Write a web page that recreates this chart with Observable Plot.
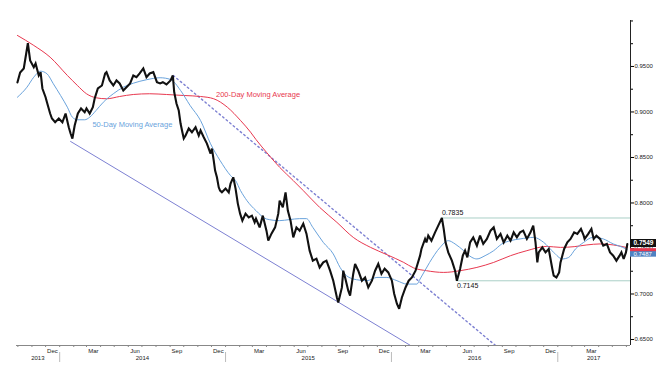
<!DOCTYPE html>
<html><head><meta charset="utf-8">
<script src="https://cdn.jsdelivr.net/npm/d3@7"></script>
<script src="https://cdn.jsdelivr.net/npm/@observablehq/plot@0.6"></script>
<style>body{margin:0;background:#fff}</style>
</head><body><div id="chart"></div>
<script>
const priceDates = ["2013-09-30","2013-10-06","2013-10-14","2013-10-23","2013-10-28","2013-11-05","2013-11-09","2013-11-16","2013-11-20","2013-11-24","2013-12-01","2013-12-04","2013-12-11","2013-12-15","2013-12-22","2013-12-30","2014-01-07","2014-01-14","2014-01-21","2014-01-25","2014-01-29","2014-02-03","2014-02-10","2014-02-17","2014-02-25","2014-03-01","2014-03-08","2014-03-15","2014-03-19","2014-03-26","2014-04-04","2014-04-11","2014-04-14","2014-04-21","2014-04-29","2014-05-06","2014-05-13","2014-05-21","2014-05-28","2014-06-05","2014-06-12","2014-06-19","2014-06-26","2014-07-04","2014-07-11","2014-07-18","2014-07-26","2014-08-03","2014-08-10","2014-08-16","2014-08-24","2014-09-02","2014-09-07","2014-09-10","2014-09-15","2014-09-20","2014-09-24","2014-09-28","2014-10-01","2014-10-05","2014-10-12","2014-10-19","2014-10-27","2014-11-03","2014-11-07","2014-11-14","2014-11-21","2014-11-29","2014-12-02","2014-12-06","2014-12-09","2014-12-13","2014-12-17","2014-12-20","2014-12-24","2015-01-01","2015-01-08","2015-01-12","2015-01-18","2015-01-23","2015-01-28","2015-02-02","2015-02-07","2015-02-14","2015-02-21","2015-02-28","2015-03-06","2015-03-09","2015-03-17","2015-03-24","2015-04-01","2015-04-05","2015-04-12","2015-04-20","2015-04-27","2015-04-30","2015-05-07","2015-05-13","2015-05-18","2015-05-24","2015-05-30","2015-06-06","2015-06-13","2015-06-21","2015-06-28","2015-07-05","2015-07-12","2015-07-20","2015-07-27","2015-08-04","2015-08-11","2015-08-19","2015-08-26","2015-09-03","2015-09-06","2015-09-14","2015-09-17","2015-09-21","2015-09-28","2015-10-02","2015-10-09","2015-10-13","2015-10-20","2015-10-28","2015-11-04","2015-11-11","2015-11-19","2015-11-26","2015-12-03","2015-12-10","2015-12-17","2015-12-25","2016-01-02","2016-01-07","2016-01-13","2016-01-18","2016-01-24","2016-02-01","2016-02-08","2016-02-15","2016-02-23","2016-03-04","2016-03-07","2016-03-15","2016-03-18","2016-03-22","2016-03-29","2016-04-06","2016-04-13","2016-04-21","2016-04-25","2016-04-29","2016-05-05","2016-05-13","2016-05-20","2016-05-24","2016-05-31","2016-06-06","2016-06-11","2016-06-16","2016-06-22","2016-06-29","2016-07-07","2016-07-14","2016-07-21","2016-07-29","2016-08-06","2016-08-13","2016-08-20","2016-08-28","2016-09-04","2016-09-12","2016-09-19","2016-09-26","2016-10-03","2016-10-10","2016-10-17","2016-10-25","2016-11-02","2016-11-08","2016-11-13","2016-11-17","2016-11-20","2016-11-28","2016-12-05","2016-12-12","2016-12-16","2016-12-20","2016-12-23","2016-12-29","2017-01-04","2017-01-07","2017-01-15","2017-01-22","2017-01-29","2017-02-06","2017-02-13","2017-02-21","2017-02-27","2017-03-01","2017-03-09","2017-03-16","2017-03-21","2017-03-27","2017-04-04","2017-04-11","2017-04-19","2017-04-26","2017-05-03","2017-05-10","2017-05-17","2017-05-21","2017-05-26","2017-05-31","2017-06-03"];
const priceValues = [0.9324,0.9434,0.9478,0.9755,0.9566,0.9492,0.9533,0.9401,0.9437,0.9258,0.9162,0.9107,0.8983,0.8928,0.8887,0.8928,0.8887,0.8983,0.8832,0.8763,0.8708,0.8851,0.8983,0.9038,0.8997,0.9038,0.8983,0.9052,0.9148,0.9258,0.9291,0.9423,0.9437,0.9346,0.9291,0.9346,0.9313,0.9236,0.9272,0.9313,0.9401,0.9382,0.9423,0.9478,0.9382,0.9423,0.9437,0.9327,0.9313,0.9327,0.9302,0.9346,0.9401,0.9217,0.9093,0.9016,0.8873,0.8777,0.8708,0.8741,0.8818,0.8777,0.8832,0.8741,0.8796,0.8722,0.8653,0.8543,0.8598,0.8466,0.8356,0.8282,0.8172,0.8136,0.8117,0.8158,0.8117,0.8213,0.8282,0.8158,0.7993,0.7883,0.7806,0.7883,0.7842,0.7861,0.7787,0.7828,0.7732,0.7861,0.7696,0.7586,0.7663,0.7732,0.7883,0.8026,0.7952,0.8117,0.7916,0.7806,0.7622,0.7732,0.7696,0.7773,0.7663,0.7476,0.7366,0.7388,0.7292,0.7347,0.7366,0.7256,0.7146,0.6962,0.6907,0.7072,0.7256,0.7182,0.7036,0.6981,0.7223,0.7330,0.7256,0.7146,0.7182,0.7072,0.7146,0.7256,0.7330,0.7223,0.7278,0.7237,0.7146,0.7003,0.6893,0.6838,0.6962,0.7072,0.7146,0.7182,0.7256,0.7421,0.7495,0.7605,0.7567,0.7641,0.7586,0.7677,0.7751,0.7835,0.7715,0.7567,0.7457,0.7366,0.7256,0.7145,0.7275,0.7421,0.7476,0.7402,0.7567,0.7622,0.7531,0.7641,0.7550,0.7605,0.7696,0.7732,0.7605,0.7660,0.7567,0.7641,0.7586,0.7677,0.7622,0.7677,0.7696,0.7605,0.7677,0.7751,0.7567,0.7347,0.7457,0.7512,0.7457,0.7495,0.7385,0.7275,0.7201,0.7182,0.7237,0.7347,0.7495,0.7567,0.7605,0.7677,0.7660,0.7715,0.7641,0.7605,0.7660,0.7715,0.7605,0.7641,0.7605,0.7531,0.7550,0.7457,0.7421,0.7366,0.7421,0.7457,0.7385,0.7457,0.7549];

const ma200Dates = ["2013-09-30","2013-11-05","2013-12-11","2014-01-18","2014-02-09","2014-03-01","2014-03-22","2014-04-14","2014-05-13","2014-06-12","2014-07-18","2014-08-24","2014-10-01","2014-11-07","2014-12-06","2015-01-05","2015-02-03","2015-02-25","2015-03-09","2015-04-01","2015-04-30","2015-05-30","2015-06-21","2015-07-27","2015-09-03","2015-10-09","2015-11-16","2015-12-22","2016-01-28","2016-02-19","2016-03-18","2016-04-25","2016-05-31","2016-07-07","2016-08-13","2016-09-19","2016-10-25","2016-12-08","2017-01-07","2017-02-06","2017-03-06","2017-04-04","2017-05-03","2017-06-03"];
const ma200Values = [0.9841,0.9731,0.9602,0.9401,0.9291,0.9200,0.9156,0.9145,0.9170,0.9192,0.9200,0.9192,0.9181,0.9170,0.9145,0.9052,0.8906,0.8778,0.8697,0.8557,0.8392,0.8246,0.8136,0.7952,0.7787,0.7622,0.7512,0.7432,0.7347,0.7286,0.7256,0.7237,0.7256,0.7292,0.7347,0.7421,0.7476,0.7523,0.7512,0.7520,0.7539,0.7550,0.7539,0.7509];

const ma50Dates = ["2013-09-30","2013-10-21","2013-11-05","2013-11-20","2013-12-04","2013-12-18","2014-01-03","2014-01-18","2014-01-29","2014-02-09","2014-02-25","2014-03-08","2014-03-22","2014-04-07","2014-04-29","2014-05-21","2014-06-12","2014-07-11","2014-08-10","2014-09-02","2014-09-24","2014-10-15","2014-11-07","2014-11-29","2014-12-20","2015-01-12","2015-01-23","2015-02-03","2015-02-17","2015-03-09","2015-04-01","2015-04-30","2015-05-21","2015-06-13","2015-06-28","2015-07-12","2015-08-04","2015-08-26","2015-09-10","2015-09-24","2015-10-16","2015-11-08","2015-11-30","2015-12-22","2016-01-13","2016-02-04","2016-02-26","2016-03-04","2016-03-25","2016-04-17","2016-05-05","2016-05-20","2016-06-08","2016-06-26","2016-07-07","2016-07-25","2016-08-13","2016-08-31","2016-09-19","2016-10-10","2016-11-09","2016-12-01","2016-12-23","2017-01-11","2017-01-25","2017-02-09","2017-02-27","2017-03-19","2017-04-11","2017-05-03","2017-05-24","2017-06-03"];
const ma50Values = [0.9162,0.9272,0.9382,0.9448,0.9420,0.9310,0.9181,0.9052,0.8942,0.8914,0.8914,0.8942,0.9016,0.9107,0.9200,0.9272,0.9316,0.9354,0.9376,0.9357,0.9236,0.9071,0.8906,0.8650,0.8466,0.8301,0.8246,0.8136,0.8026,0.7916,0.7824,0.7806,0.7817,0.7828,0.7828,0.7732,0.7567,0.7440,0.7292,0.7201,0.7157,0.7146,0.7182,0.7182,0.7146,0.7109,0.7109,0.7164,0.7347,0.7512,0.7586,0.7550,0.7476,0.7402,0.7385,0.7421,0.7476,0.7550,0.7586,0.7605,0.7622,0.7567,0.7457,0.7385,0.7402,0.7495,0.7567,0.7622,0.7605,0.7550,0.7512,0.7487];

// trend lines (two endpoints each) and support/resistance levels
const supportLineDates = ["2014-01-25","2016-02-12"];
const supportLineValues = [0.8676,0.6434];
const resistLineDates = ["2014-09-08","2016-08-17"];
const resistLineValues = [0.9401,0.6434];
const levelValues = [0.7835,0.7145];
const levelStartDates = ["2016-04-21","2016-05-24"];
const levelLabels = ["0.7835","0.7145"];

const maLabels = ["200-Day Moving Average","50-Day Moving Average"];
const maLabelDates = ["2014-12-11","2014-03-14"];
const maLabelValues = [0.9192,0.8857];

const yTicks = [0.65,0.70,0.75,0.80,0.85,0.90,0.95];
const yMinorTicks = [0.675,0.725,0.775,0.825,0.875,0.925,0.975,1.0];
const yearLabelDates = ["2013-11-14","2014-07-02","2015-07-02","2016-07-02","2017-03-21"];
const yearStartDates = ["2014-01-01","2015-01-01","2016-01-01","2017-01-01"];
const lastPrice = 0.7549, lastMA50 = 0.7487, lastMA200 = 0.7509;

const xStart = new Date("2013-09-28"), xEnd = new Date("2017-06-10");
const yDomain = [0.6434, 1.0005];
const toRows = (ds, vs) => ds.map((d, i) => ({date: new Date(d), value: vs[i]}));
const price = toRows(priceDates, priceValues);
const ma200 = toRows(ma200Dates, ma200Values);
const ma50 = toRows(ma50Dates, ma50Values);
const support = toRows(supportLineDates, supportLineValues);
const resist = toRows(resistLineDates, resistLineValues);
const levels = levelValues.map((v, i) => ({value: v, start: new Date(levelStartDates[i]), label: levelLabels[i]}));
const maLab = maLabels.map((t, i) => ({t, date: new Date(maLabelDates[i]), value: maLabelValues[i]}));
const boxEnd = new Date("2017-08-10");

const months = d3.utcMonths(new Date("2013-10-01"), new Date("2017-06-05"));
const labelMonths = months.filter(d => [2,5,8,11].includes(d.getUTCMonth())).map(d => d3.utcDay.offset(d, 15)).filter(d => d < xEnd);

const RED = "#e8384f", BLUE = "#6aa3dc", TREND = "#7d80d2", LEVEL = "#a9cfc6";
const FONT = "Liberation Sans, Arial, sans-serif";

const chart = Plot.plot({
  width: 656, height: 374,
  marginLeft: 16, marginRight: 26, marginTop: 20, marginBottom: 29,
  style: {fontFamily: FONT, background: "#fff"},
  x: {type: "utc", domain: [xStart, xEnd], label: null},
  y: {domain: yDomain, label: null},
  marks: [
    Plot.ruleY(levels, {y: "value", x1: "start", x2: xEnd, stroke: LEVEL, strokeWidth: 1}),
    Plot.line(support, {x: "date", y: "value", stroke: TREND, strokeWidth: 1}),
    Plot.line(resist, {x: "date", y: "value", stroke: TREND, strokeWidth: 1.4, strokeDasharray: "1.6,3"}),
    Plot.line(ma200, {x: "date", y: "value", stroke: RED, strokeWidth: 1, curve: "monotone-x"}),
    Plot.line(ma50, {x: "date", y: "value", stroke: BLUE, strokeWidth: 1, curve: "monotone-x"}),
    Plot.line(price, {x: "date", y: "value", stroke: "#111", strokeWidth: 2.1, strokeLinejoin: "miter", strokeMiterlimit: 3}),
    Plot.text(maLab, {x: "date", y: "value", text: "t", textAnchor: "start", fill: (d, i) => i === 0 ? RED : BLUE, fontSize: 7.5}),
    Plot.text([levels[0]], {x: "start", y: "value", text: "label", textAnchor: "start", dy: -5, fontSize: 7, fill: "#111"}),
    Plot.text([levels[1]], {x: "start", y: "value", text: "label", textAnchor: "start", dy: 5, fontSize: 7, fill: "#111"}),
    // axes
    Plot.ruleX([xEnd], {stroke: "#222", strokeWidth: 1}),
    Plot.ruleY([yDomain[0]], {stroke: "#888", strokeWidth: 1}),
    Plot.axisY({anchor: "right", label: null, ticks: yTicks, tickFormat: d3.format(".4f"), tickSize: 3, tickPadding: 1, fontSize: 6, fill: "#222"}),
    Plot.axisY({anchor: "right", label: null, ticks: yMinorTicks, tickFormat: () => "", tickSize: 2}),
    Plot.axisX({label: null, ticks: months, tickFormat: () => "", tickSize: 2, stroke: "#888"}),
    Plot.axisX({label: null, ticks: labelMonths, tickFormat: d3.utcFormat("%b"), tickSize: 0, tickPadding: 3, fontSize: 6, fill: "#222"}),
    Plot.axisX({label: null, ticks: yearLabelDates.map(d => new Date(d)), tickFormat: d3.utcFormat("%Y"), tickSize: 0, tickPadding: 10, fontSize: 6, fill: "#222"}),
    Plot.axisX({label: null, ticks: yearStartDates.map(d => new Date(d)), tickFormat: () => "", tickSize: 10, dy: 7, stroke: "#bbb"}),
    // last-value boxes
    Plot.ruleY([lastMA50], {y: d => d, x1: xEnd, x2: boxEnd, stroke: "#4f82c2", strokeWidth: 6, dy: 4}),
    Plot.text([lastMA50], {y: d => d, x: xEnd, text: d => d.toFixed(4), textAnchor: "start", dx: 3, dy: 4, fill: "#fff", fontSize: 6}),
    Plot.ruleY([lastMA200], {y: d => d, x1: xEnd, x2: boxEnd, stroke: RED, strokeWidth: 3, dy: 2}),
    Plot.ruleY([lastPrice], {y: d => d, x1: xEnd, x2: boxEnd, stroke: "#111", strokeWidth: 8, dy: -1}),
    Plot.text([lastPrice], {y: d => d, x: xEnd, text: d => d.toFixed(4), textAnchor: "start", dx: 3, dy: -1, fill: "#fff", fontSize: 6.5, fontWeight: "bold"})
  ]
});
document.getElementById("chart").appendChild(chart);
</script>
</body></html>
